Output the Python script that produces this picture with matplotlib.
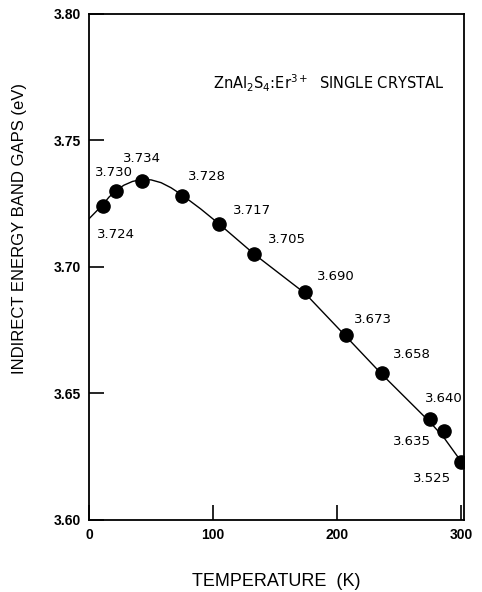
import numpy as np
import matplotlib
matplotlib.use('Agg')
import matplotlib.pyplot as plt

plt.rcParams['font.family'] = ['Liberation Sans', 'DejaVu Sans']
plt.rcParams['mathtext.fontset'] = 'dejavusans'

# measured points (K, eV)
temp = [11, 22, 43, 75, 105, 133, 174, 207, 236, 275, 286, 300]
gap = [3.724, 3.730, 3.734, 3.728, 3.717, 3.705, 3.690, 3.673, 3.658, 3.640, 3.635, 3.623]
labels = ['3.724', '3.730', '3.734', '3.728', '3.717', '3.705',
          '3.690', '3.673', '3.658', '3.640', '3.635', '3.525']

# fitted curve
curve_t = [0, 3, 6, 11, 16, 22, 28, 35, 43, 50, 58, 66, 75, 90, 105, 133, 174, 207, 236, 275, 286, 300]
curve_e = [3.719, 3.7205, 3.722, 3.7245, 3.7275, 3.7302, 3.7322, 3.7337, 3.7345, 3.7343,
           3.7332, 3.7312, 3.7283, 3.7228, 3.7168, 3.7050, 3.6895, 3.6725, 3.6575, 3.6385,
           3.6325, 3.6230]

# label offsets in pixels (dx, dy)
offs = [(13, -29), (-2, 18), (-1, 22), (25, 19), (33, 13), (33, 15),
        (31, 16), (27, 16), (30, 18), (14, 20), (-32, -10), (-29, -17)]

fig = plt.figure(figsize=(4.82, 5.92), dpi=100)
ax = fig.add_axes([0.185, 0.122, 0.777, 0.855])

ax.plot(curve_t, curve_e, color='black', lw=1.0)
ax.plot(temp, gap, 'o', color='black', ms=9.5)

for t, e, s, (dx, dy) in zip(temp, gap, labels, offs):
    ax.annotate(s, (t, e), xytext=(dx, dy), textcoords='offset pixels',
                ha='center', va='center', fontsize=9.5, family='DejaVu Sans')

ax.text(0.64, 0.862, r'ZnAl$_2$S$_4$:Er$^{3+}$  SINGLE CRYSTAL', transform=ax.transAxes,
        ha='center', va='center', fontsize=10.5, family='DejaVu Sans')

ax.set_xlim(0, 302)
ax.set_ylim(3.60, 3.80)
ax.set_xticks([0, 100, 200, 300])
ax.set_xticklabels(['0', '100', '200', '300'])
ax.set_yticks([3.60, 3.65, 3.70, 3.75, 3.80])
ax.set_yticklabels(['3.60', '3.65', '3.70', '3.75', '3.80'])
ax.tick_params(direction='in', length=11, width=1.2, labelsize=10, pad=6)
for lab in ax.get_xticklabels() + ax.get_yticklabels():
    lab.set_fontweight('bold')
for sp in ax.spines.values():
    sp.set_linewidth(1.3)

ax.set_xlabel('TEMPERATURE  (K)', fontsize=13, labelpad=22)
ax.set_ylabel('INDIRECT ENERGY BAND GAPS (eV)', fontsize=12)
ax.yaxis.set_label_coords(-0.165, 0.575)

fig.savefig('out.png', dpi=100)
